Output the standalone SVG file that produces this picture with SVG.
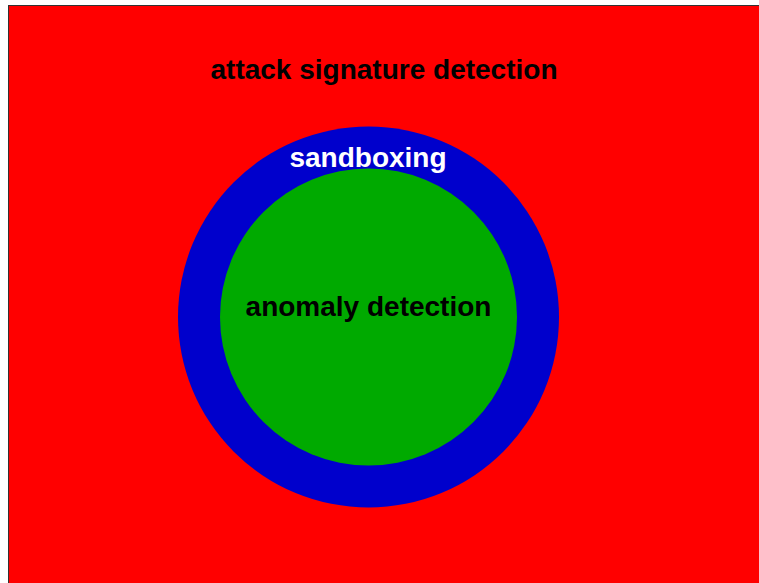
<svg xmlns="http://www.w3.org/2000/svg" width="759" height="583" viewBox="0 0 759 583">
<style>
.lbl{font-family:"Liberation Sans",Arial,sans-serif;font-weight:bold;font-size:28px;text-anchor:middle}
</style>
<rect width="759" height="583" fill="#ffffff"/>
<g id="attack-signature-detection">
<rect x="8.5" y="5.5" width="760" height="590" fill="#ff0000" stroke="#333333" stroke-width="1"/>
<text class="lbl" x="384" y="79" fill="#000000">attack signature detection</text>
</g>
<g id="sandboxing">
<circle cx="368.5" cy="317" r="190.5" fill="#0000cc"/>
<text class="lbl" x="368" y="167" fill="#ffffff">sandboxing</text>
</g>
<g id="anomaly-detection">
<circle cx="368.5" cy="317" r="148.5" fill="#00aa00"/>
<text class="lbl" x="368.5" y="316" fill="#000000">anomaly detection</text>
</g>
<g id="connectors"/>
</svg>
